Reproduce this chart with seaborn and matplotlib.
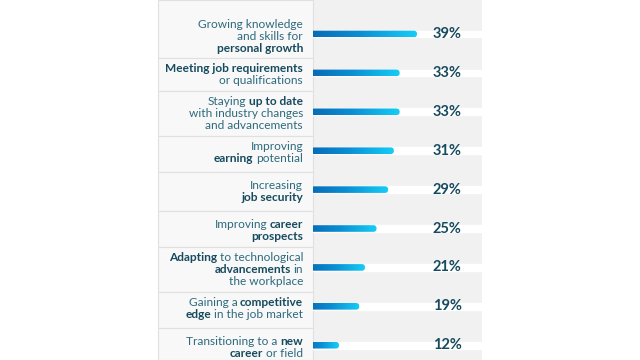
import numpy as np
import pandas as pd
import seaborn as sns
import matplotlib.pyplot as plt
from matplotlib.patches import Rectangle, FancyBboxPatch
from matplotlib.colors import LinearSegmentedColormap
from matplotlib.transforms import IdentityTransform, blended_transform_factory

# reasons, one entry per printed line, **...** = bold words
reason_lines = [
    ["Growing knowledge", "and skills for", "**personal growth**"],
    ["**Meeting job requirements**", "or qualifications"],
    ["Staying **up to date**", "with industry changes", "and advancements"],
    ["Improving", "**earning** potential"],
    ["Increasing", "**job security**"],
    ["Improving **career**", "**prospects**"],
    ["**Adapting** to technological", "**advancements** in", "the workplace"],
    ["Gaining a **competitive**", "**edge** in the job market"],
    ["Transitioning to a **new**", "**career** or field"],
]
values = [39, 33, 33, 31, 29, 25, 21, 19, 12]
pct_labels = [f"{v}%" for v in values]
reasons = [" ".join(l).replace("**", "") for l in reason_lines]

dark_blue = "#0565b0"
cyan = "#16cdf5"
txt_col = "#2d6a7e"
bold_col = "#164a5e"

sns.set_style("white")
plt.rcParams["font.family"] = ["Lato", "DejaVu Sans"]

W, H = 640, 360
fig = plt.figure(figsize=(6.4, 3.6), dpi=100)
fig.patch.set_facecolor("white")

# grey panel behind everything
fig.patches.append(Rectangle((158 / W, 0), (482 - 158) / W, 1, transform=fig.transFigure,
                             facecolor="#f1f1f1", edgecolor="none", zorder=0))

bx0, bx1 = 313, 482
ax = fig.add_axes([bx0 / W, 0, (bx1 - bx0) / W, 1])
ax.set_facecolor("none")
ax.set_zorder(3)

df = pd.DataFrame({"reason": reasons, "share": values})
bar_h = 0.17
sns.barplot(data=df, x="share", y="reason", orient="h", ax=ax, width=bar_h,
            color=dark_blue, zorder=3)
xlim = (3, 61.5)
ylim = (len(values) - 1 + 0.38, -0.874)
ax.set_xlim(*xlim)
ax.set_ylim(*ylim)
ax.axis("off")

# px per data unit
px_x = (bx1 - bx0) / (xlim[1] - xlim[0])
px_y = H / (ylim[0] - ylim[1])
asp = px_x / px_y

cmap = LinearSegmentedColormap.from_list("bar", [dark_blue, "#0b8fd4", cyan])
grad = np.linspace(0, 1, 256).reshape(1, -1)
bars = list(ax.patches)
for p in bars:
    x, y, w, h = p.get_x(), p.get_y(), p.get_width(), p.get_height()
    r = h / asp / 2
    fb = FancyBboxPatch((x, y), w, h, boxstyle=f"round,pad=0,rounding_size={r}",
                        mutation_aspect=asp, facecolor="none", edgecolor="none",
                        transform=ax.transData)
    ax.add_patch(fb)
    ax.imshow(grad, extent=[x, x + w, y + h, y], aspect="auto", cmap=cmap,
              clip_path=fb, zorder=3, interpolation="bilinear")
    p.set_visible(False)

# white tracks
ax.barh(range(len(values)), xlim[1] - xlim[0], left=xlim[0], height=bar_h,
        color="white", zorder=1)
ax.set_xlim(*xlim)
ax.set_ylim(*ylim)

trans = blended_transform_factory(ax.transAxes, ax.transData)
for i, lab in enumerate(pct_labels):
    ax.text(0.71, i, lab, transform=trans, va="center", ha="left",
            fontsize=10.5, fontweight="bold", color=bold_col, zorder=4)

# left labels with mixed weights
renderer = fig.canvas.get_renderer()
line_h = 12
right_px = 303
space = 2.6
tops, bots = [], []
for i, lines in enumerate(reason_lines):
    cy = H - ax.transData.transform((xlim[0], i))[1] + 2  # from top
    n = len(lines)
    top = cy - n * line_h / 2
    tops.append(top)
    bots.append(top + n * line_h)
    for k, line in enumerate(lines):
        yc = top + line_h * (k + 0.5)
        base = H - yc - 3.5
        parts = line.split("**")
        segs = [(s.strip(), j % 2 == 1) for j, s in enumerate(parts) if s.strip()]
        xr = right_px
        for s, bold in reversed(segs):
            t = fig.text(xr, base, s, transform=IdentityTransform(), ha="right",
                         va="baseline", fontsize=8.6,
                         fontweight="bold" if bold else "normal",
                         color=bold_col if bold else txt_col, zorder=5)
            bb = t.get_window_extent(renderer)
            xr = bb.x0 - space

# label boxes
edges = [0] + [(bots[i] + tops[i + 1]) / 2 for i in range(len(tops) - 1)] + [H]
for i in range(len(tops)):
    fig.patches.append(Rectangle((158 / W, 1 - edges[i + 1] / H), (bx0 - 158) / W,
                                 (edges[i + 1] - edges[i]) / H, transform=fig.transFigure,
                                 facecolor="#f8f8f8", edgecolor="#e0e0e0", lw=0.8, zorder=1))

fig.savefig("out.png", dpi=100)
